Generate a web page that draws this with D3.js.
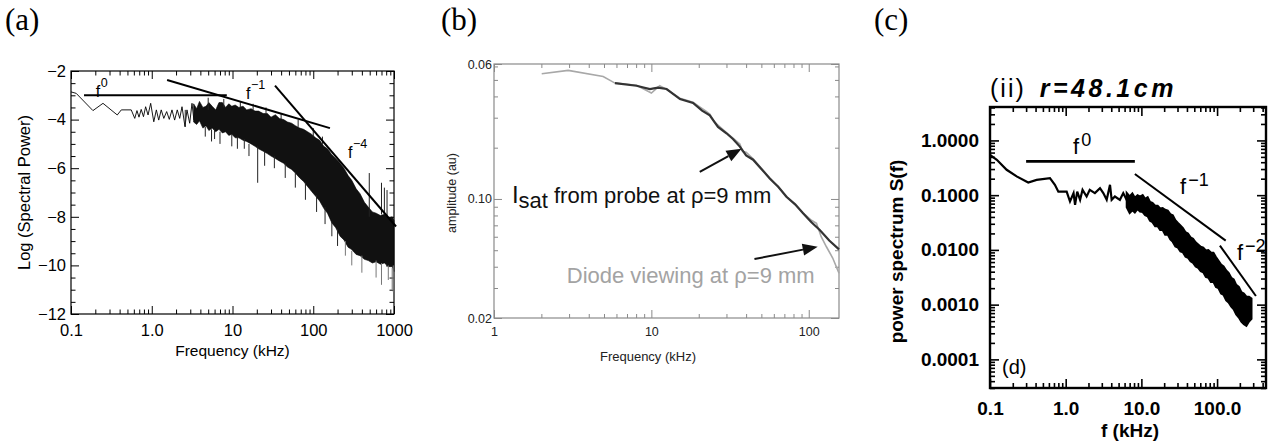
<!DOCTYPE html>
<html>
<head>
<meta charset="utf-8">
<script src="https://cdn.jsdelivr.net/npm/d3@7"></script>
<style>
  html, body { margin: 0; padding: 0; background: #fff; }
  svg { display: block; }
</style>
</head>
<body>
<svg id="fig" width="1284" height="448"></svg>
<script>
// ---------------- Panel (a): log spectral power ----------------
const aLowFreq = [0.1, 0.116, 0.187, 0.249, 0.374, 0.42, 0.557, 0.616, 0.656, 0.695, 0.74, 0.79, 0.84, 0.9, 0.97, 1.06,
  1.14, 1.22, 1.31, 1.41, 1.53, 1.65, 1.78, 1.92, 2.07, 2.22, 2.37, 2.58, 2.73, 2.95, 3.15, 3.33];
const aLowPower = [-2.86, -2.92, -3.63, -3.33, -3.81, -3.6, -3.6, -3.95, -3.63, -3.9, -3.58, -3.88, -3.47, -3.81, -3.33, -4.09,
  -3.6, -4.02, -3.6, -3.95, -3.67, -3.99, -3.6, -4.02, -3.6, -3.95, -3.47, -4.29, -3.6, -4.15, -3.33, -4.02];
const aBandFreq = [3.3, 3.6, 3.9, 4.3, 4.7, 5.1, 5.6, 6.2, 6.8, 7.5, 8.2, 9.0, 9.8, 10.8, 12, 13.5, 15, 17, 19, 21,
  24, 27, 30, 34, 38, 43, 48, 54, 60, 68, 76, 85, 95, 107, 120, 135, 150, 170, 190, 215,
  240, 270, 300, 340, 380, 430, 480, 540, 600, 680, 760, 850, 950, 1000];
const aBandHigh = [-3.35, -3.55, -3.25, -3.5, -3.45, -3.3, -3.45, -3.6, -3.3, -3.3, -3.5, -3.35, -3.45, -3.4, -3.5, -3.45, -3.6, -3.55, -3.65, -3.65,
  -3.75, -3.75, -3.9, -3.8, -3.95, -4.0, -4.1, -4.15, -4.25, -4.35, -4.4, -4.5, -4.6, -4.75, -4.85, -5.1, -5.2, -5.45, -5.6, -5.8,
  -6.0, -6.3, -6.5, -6.85, -7.05, -7.4, -7.6, -7.8, -7.85, -7.95, -7.9, -8.05, -8.0, -8.15];
const aBandLow = [-4.1, -4.2, -4.05, -4.35, -4.25, -4.45, -4.35, -4.5, -4.4, -4.55, -4.5, -4.65, -4.6, -4.75, -4.75, -4.85, -4.9, -5.0, -5.1, -5.2,
  -5.3, -5.4, -5.5, -5.6, -5.7, -5.8, -5.95, -6.05, -6.2, -6.4, -6.55, -6.75, -6.95, -7.15, -7.35, -7.65, -7.85, -8.25, -8.45, -8.8,
  -8.95, -9.25, -9.35, -9.55, -9.6, -9.75, -9.8, -9.9, -9.85, -9.95, -9.9, -10.05, -10.05, -10.25];
// isolated spectral spikes: frequency, one end, other end
const aSpikeFreq = [2.6, 4.6, 5.5, 6.0, 7.0, 9.8, 11.5, 14, 16, 20.5, 25, 33, 45, 60, 80, 110, 140, 170, 200,
  5.0, 7.8, 12.5, 18, 26, 40, 65, 100, 130,
  494, 700, 760, 820, 250, 300, 400, 600, 700, 850, 950, 980];
const aSpikeTop = [-3.6, -4.3, -4.4, -4.4, -4.5, -4.6, -4.7, -4.8, -5.0, -5.1, -5.3, -5.5, -5.8, -6.2, -6.6, -7.1, -7.6, -8.2, -8.5,
  -3.1, -3.15, -3.25, -3.35, -3.5, -3.75, -4.0, -4.35, -4.7,
  -6.2, -6.6, -6.8, -6.9, -9.0, -9.4, -9.6, -9.8, -9.9, -10.0, -10.1, -10.0];
const aSpikeBottom = [-4.3, -4.7, -4.9, -4.8, -5.0, -5.1, -5.2, -5.2, -5.5, -6.6, -5.9, -6.0, -6.4, -6.8, -7.3, -7.8, -8.3, -8.8, -9.2,
  -3.6, -3.5, -3.5, -3.6, -3.75, -4.0, -4.3, -4.7, -5.0,
  -8.0, -7.9, -7.9, -8.0, -9.6, -10.0, -10.3, -10.5, -10.8, -10.6, -11.0, -11.1];
const aFitF0 = [[0.145, -3.0], [8.5, -3.0]];
const aFitF1 = [[1.55, -2.37], [161, -4.35]];
const aFitF4 = [[33.6, -2.6], [1060, -8.4]];
const aXTicks = [0.1, 1, 10, 100, 1000];
const aXTickLabels = ["0.1", "1.0", "10", "100", "1000"];
const aYTicks = [-12, -10, -8, -6, -4, -2];
const aYTickLabels = ["\u221212", "\u221210", "\u22128", "\u22126", "\u22124", "\u22122"];

// ---------------- Panel (b): amplitude spectra ----------------
const bIsatFreq = [5.87, 8.05, 9.78, 11.0, 12.5, 15.2, 18.4, 21, 23.5, 26.5, 30, 33, 36.5, 40, 44.3, 50, 56.5, 64, 72.1, 82, 92, 104, 117.5, 135, 155.7];
const bIsatAmp = [0.479, 0.462, 0.442, 0.45, 0.442, 0.386, 0.366, 0.33, 0.31, 0.265, 0.243, 0.225, 0.203, 0.18, 0.170, 0.150, 0.132, 0.118, 0.103, 0.093, 0.0824, 0.073, 0.0657, 0.057, 0.0506];
const bDiodeFreq = [2.01, 2.96, 4.94, 5.87, 8.05, 10.0, 11.3, 12.5, 15.2, 18.4, 20.5, 22, 23.5, 25, 30, 36.5, 38, 40, 44.3, 56.5, 72.1, 92, 104, 112, 120, 129.5, 142, 155.7];
const bDiodeAmp = [0.543, 0.569, 0.524, 0.479, 0.465, 0.419, 0.462, 0.44, 0.39, 0.37, 0.345, 0.33, 0.315, 0.285, 0.245, 0.21, 0.19, 0.188, 0.172, 0.133, 0.104, 0.083, 0.075, 0.0719, 0.06, 0.0524, 0.045, 0.0366];
const bXTicks = [1, 10, 100];
const bXTickLabels = ["1", "10", "100"];
const bYTicks = [0.02, 0.1, 0.62];
const bYTickLabels = ["0.02", "0.10", "0.06"];

// ---------------- Panel (c): power spectrum S(f) ----------------
const cLowFreq = [0.1, 0.123, 0.166, 0.225, 0.32, 0.413, 0.62, 0.72, 0.8, 1.03, 1.14, 1.27, 1.33, 1.42, 1.55, 1.67, 1.89, 2.08,
  2.43, 2.84, 3.14, 3.48, 3.85, 4.05, 4.47, 5.2, 5.76, 6.39, 7.07];
const cLowPower = [0.547, 0.443, 0.291, 0.22, 0.17, 0.19, 0.205, 0.155, 0.116, 0.116, 0.0766, 0.109, 0.0666, 0.116, 0.0822, 0.125, 0.0945, 0.125,
  0.109, 0.1346, 0.109, 0.0822, 0.155, 0.0822, 0.0945, 0.0822, 0.109, 0.0822, 0.0945];
const cBandFreq = [6.4, 7.0, 7.6, 8.2, 8.9, 9.6, 10.4, 11.2, 12.1, 13.0, 14.0, 15.2, 16.4, 17.7, 19.1, 20.6, 22.3, 24.1, 26.0, 28.1,
  30.4, 32.8, 35.4, 38.3, 41.3, 44.6, 48.2, 52.1, 56.3, 60.8, 65.7, 71.0, 76.7, 82.8, 89.5, 96.6, 104, 113, 122, 132,
  142, 154, 166, 179, 194, 209, 226, 244, 264, 285];
const cBandHigh = [0.110, 0.095, 0.108, 0.090, 0.100, 0.094, 0.100, 0.086, 0.092, 0.075, 0.072, 0.064, 0.064, 0.057, 0.058, 0.054, 0.052, 0.045, 0.043, 0.035,
  0.031, 0.028, 0.025, 0.021, 0.020, 0.017, 0.016, 0.0138, 0.0126, 0.0114, 0.0110, 0.0098, 0.0099, 0.0090, 0.0089, 0.0074, 0.0064, 0.0054, 0.0050, 0.0042,
  0.0038, 0.0031, 0.0029, 0.0023, 0.0021, 0.0017, 0.0016, 0.0014, 0.0014, 0.0013];
const cBandLow = [0.060, 0.047, 0.053, 0.048, 0.056, 0.050, 0.049, 0.043, 0.041, 0.034, 0.032, 0.027, 0.027, 0.023, 0.023, 0.019, 0.019, 0.0155, 0.014, 0.0115,
  0.011, 0.0094, 0.009, 0.0075, 0.0072, 0.0062, 0.0058, 0.0050, 0.0047, 0.0041, 0.0039, 0.0032, 0.0031, 0.0026, 0.0026, 0.0021, 0.0020, 0.0016, 0.0015, 0.0012,
  0.0011, 0.00092, 0.00082, 0.00066, 0.00058, 0.00049, 0.00044, 0.00041, 0.00049, 0.00055];
const cFitF0 = [[0.30, 0.413], [8.2, 0.413]];
const cFitF1 = [[8.2, 0.243], [130, 0.0148]];
const cFitF2 = [[109, 0.012], [326, 0.00144]];
const cXTicks = [0.1, 1, 10, 100];
const cXTickLabels = ["0.1", "1.0", "10.0", "100.0"];
const cYTicks = [1e-4, 1e-3, 1e-2, 1e-1, 1];
const cYTickLabels = ["0.0001", "0.0010", "0.0100", "0.1000", "1.0000"];

// ---------------- helpers ----------------
const SANS = "'Liberation Sans', Arial, Helvetica, sans-serif";
const SERIF = "'Liberation Serif', 'Times New Roman', serif";
const svg = d3.select("#fig");

function zip(xs, ys) { return xs.map((x, i) => [x, ys[i]]); }

function logMinor(lo, hi, majors) {
  const out = [];
  for (let e = Math.floor(Math.log10(lo)) - 1; e <= Math.ceil(Math.log10(hi)); e++) {
    for (let m = 1; m <= 9; m++) {
      const v = +(m * Math.pow(10, e)).toPrecision(8);
      if (v >= lo * 0.9999 && v <= hi * 1.0001 && !majors.some(t => Math.abs(t - v) / v < 1e-6)) out.push(v);
    }
  }
  return out;
}

// Frame with inward ticks on all four sides, labels on bottom and left.
function inwardAxes(g, x, y, c) {
  const [yb, yt] = y.range();
  const [xl, xr] = x.range();
  const fmt = (labels, ticks) => d => { const i = ticks.findIndex(t => Math.abs(t - d) <= Math.abs(d) * 1e-9); return i < 0 ? "" : labels[i]; };
  const defs = [
    [d3.axisBottom(x).tickValues(c.xMajor).tickSize(-c.major).tickPadding(c.xPad).tickFormat(fmt(c.xLabels, c.xMajor)), `translate(0,${yb})`],
    [d3.axisBottom(x).tickValues(c.xMinor).tickSize(-c.minor).tickFormat(""), `translate(0,${yb})`],
    [d3.axisTop(x).tickValues(c.xMajor).tickSize(-c.major).tickFormat(""), `translate(0,${yt})`],
    [d3.axisTop(x).tickValues(c.xMinor).tickSize(-c.minor).tickFormat(""), `translate(0,${yt})`],
    [d3.axisLeft(y).tickValues(c.yMajor).tickSize(-c.major).tickPadding(c.yPad).tickFormat(fmt(c.yLabels, c.yMajor)), `translate(${xl},0)`],
    [d3.axisLeft(y).tickValues(c.yMinor).tickSize(-c.minor).tickFormat(""), `translate(${xl},0)`],
    [d3.axisRight(y).tickValues(c.yMajor).tickSize(-c.major).tickFormat(""), `translate(${xr},0)`],
    [d3.axisRight(y).tickValues(c.yMinor).tickSize(-c.minor).tickFormat(""), `translate(${xr},0)`]
  ];
  defs.forEach(([ax, tr]) => {
    const a = g.append("g").attr("transform", tr).call(ax);
    a.select(".domain").remove();
    a.attr("font-family", c.font).attr("font-size", c.fontSize).attr("font-weight", c.weight || "normal");
    a.selectAll(".tick line").attr("stroke", c.stroke).attr("stroke-width", c.tickWidth);
    a.selectAll(".tick text").attr("fill", c.textColor);
  });
  g.append("rect")
    .attr("x", xl).attr("y", yt).attr("width", xr - xl).attr("height", yb - yt)
    .attr("fill", "none").attr("stroke", c.stroke).attr("stroke-width", c.frameWidth);
}

function powerLabel(g, X, Y, exp, o) {
  const t = g.append("text").attr("x", X).attr("y", Y)
    .attr("font-family", o.font).attr("font-size", o.size).attr("fill", "#000");
  t.append("tspan").text("f");
  t.append("tspan").attr("dx", o.dx).attr("dy", -o.rise).attr("font-size", o.expSize).text(exp);
}

function panelLetter(X, text) {
  svg.append("text").attr("x", X).attr("y", 30)
    .attr("font-family", SERIF).attr("font-size", 31).attr("fill", "#000").text(text);
}

// ---------------- Panel (a) ----------------
(function () {
  const g = svg.append("g");
  const x = d3.scaleLog().domain([0.1, 1000]).range([71, 394]);
  const y = d3.scaleLinear().domain([-12, -2]).range([314, 71]);

  const yMinor = d3.range(-12, -1.99, 0.5).filter(v => !aYTicks.includes(v));
  inwardAxes(g, x, y, {
    xMajor: aXTicks, xLabels: aXTickLabels, xMinor: logMinor(0.1, 1000, aXTicks),
    yMajor: aYTicks, yLabels: aYTickLabels, yMinor,
    major: 8, minor: 4.5, xPad: 10, yPad: 5,
    font: SANS, fontSize: 16.5, stroke: "#000", tickWidth: 1, frameWidth: 1.2, textColor: "#000"
  });

  // noisy spectrum: thin low-frequency trace + dense band + isolated spikes
  g.append("path").datum(zip(aLowFreq, aLowPower))
    .attr("fill", "none").attr("stroke", "#000").attr("stroke-width", 0.9)
    .attr("d", d3.line().x(d => x(d[0])).y(d => y(d[1])));
  const band = aBandFreq.map((f, i) => ({ f, hi: aBandHigh[i], lo: aBandLow[i] }));
  g.append("path").datum(band)
    .attr("fill", "#111").attr("stroke", "#000").attr("stroke-width", 0.6)
    .attr("d", d3.area().x(d => x(d.f)).y0(d => y(d.lo)).y1(d => y(d.hi)));
  g.selectAll("line.spike").data(aSpikeFreq).join("line").attr("class", "spike")
    .attr("x1", d => x(d)).attr("x2", d => x(d))
    .attr("y1", (d, i) => y(aSpikeTop[i])).attr("y2", (d, i) => y(aSpikeBottom[i]))
    .attr("stroke", (d, i) => aSpikeBottom[i] < -9.5 ? "#777" : "#222").attr("stroke-width", 1);

  const fit = d3.line().x(d => x(d[0])).y(d => y(d[1]));
  [aFitF0, aFitF1, aFitF4].forEach(seg => g.append("path").datum(seg)
    .attr("fill", "none").attr("stroke", "#000").attr("stroke-width", 2).attr("d", fit));

  const lo = { font: SANS, size: 16, expSize: 12.5, dx: 0.5, rise: 10 };
  powerLabel(g, x(0.203), y(-3.07), "0", lo);
  powerLabel(g, x(14.7), y(-3.15), "\u22121", lo);
  powerLabel(g, x(269), y(-5.58), "\u22124", lo);

  g.append("text").attr("x", (x.range()[0] + x.range()[1]) / 2).attr("y", 356)
    .attr("text-anchor", "middle").attr("font-family", SANS).attr("font-size", 15.5).text("Frequency (kHz)");
  g.append("text").attr("transform", `translate(30,${(y.range()[0] + y.range()[1]) / 2}) rotate(-90)`)
    .attr("text-anchor", "middle").attr("font-family", SANS).attr("font-size", 16.5).text("Log (Spectral Power)");
})();
panelLetter(5, "(a)");

// ---------------- Panel (b) ----------------
(function () {
  const g = svg.append("g");
  const x = d3.scaleLog().domain([1, 155.7]).range([494, 839]);
  const y = d3.scaleLog().domain([0.02, 0.62]).range([318, 64]);

  inwardAxes(g, x, y, {
    xMajor: bXTicks, xLabels: bXTickLabels, xMinor: logMinor(1, 155.7, bXTicks),
    yMajor: bYTicks, yLabels: bYTickLabels, yMinor: logMinor(0.02, 0.62, bYTicks),
    major: 8, minor: 4, xPad: 9, yPad: 2,
    font: SANS, fontSize: 12.5, stroke: "#8a8a8a", tickWidth: 1, frameWidth: 1.2, textColor: "#222"
  });

  const line = d3.line().x(d => x(d[0])).y(d => y(d[1]));
  g.append("path").datum(zip(bDiodeFreq, bDiodeAmp))
    .attr("fill", "none").attr("stroke", "#a8a8a8").attr("stroke-width", 1.6).attr("d", line);
  g.append("path").datum(zip(bIsatFreq, bIsatAmp))
    .attr("fill", "none").attr("stroke", "#333").attr("stroke-width", 2.2).attr("d", line);

  // annotation arrows
  function arrow(p0, p1) {
    const X0 = x(p0[0]), Y0 = y(p0[1]), X1 = x(p1[0]), Y1 = y(p1[1]);
    const ang = Math.atan2(Y1 - Y0, X1 - X0), L = 15, W = 6;
    const bx = X1 - L * Math.cos(ang), by = Y1 - L * Math.sin(ang);
    g.append("line").attr("x1", X0).attr("y1", Y0).attr("x2", bx).attr("y2", by)
      .attr("stroke", "#111").attr("stroke-width", 2);
    const px = -Math.sin(ang) * W, py = Math.cos(ang) * W;
    g.append("path").attr("d", `M${X1},${Y1}L${bx + px},${by + py}L${bx - px},${by - py}Z`).attr("fill", "#111");
  }
  arrow([20.3, 0.144], [37.4, 0.197]);
  arrow([45.2, 0.0444], [114, 0.0524]);

  const t1 = g.append("text").attr("x", x(1.3)).attr("y", y(0.0947))
    .attr("font-family", SANS).attr("fill", "#111");
  t1.append("tspan").attr("font-size", 24).text("I");
  t1.append("tspan").attr("font-size", 22).attr("dy", 5).text("sat");
  t1.append("tspan").attr("font-size", 22).attr("dx", 6).attr("dy", -5).text("from probe at \u03c1=9 mm");
  g.append("text").attr("x", x(2.9)).attr("y", y(0.0321))
    .attr("font-family", SANS).attr("font-size", 22).attr("fill", "#a3a3a3").text("Diode viewing at \u03c1=9 mm");

  g.append("text").attr("x", 648).attr("y", 361)
    .attr("text-anchor", "middle").attr("font-family", SANS).attr("font-size", 13).attr("fill", "#222").text("Frequency (kHz)");
  g.append("text").attr("transform", `translate(456,193) rotate(-90)`)
    .attr("text-anchor", "middle").attr("font-family", SANS).attr("font-size", 12.5).attr("fill", "#222").text("amplitude (au)");
})();
panelLetter(441, "(b)");

// ---------------- Panel (c) ----------------
(function () {
  const g = svg.append("g");
  const x = d3.scaleLog().domain([0.1, 443]).range([990, 1266]);
  const y = d3.scaleLog().domain([3e-5, 4.08]).range([388, 107]);

  inwardAxes(g, x, y, {
    xMajor: cXTicks, xLabels: cXTickLabels, xMinor: logMinor(0.1, 443, cXTicks),
    yMajor: cYTicks, yLabels: cYTickLabels, yMinor: logMinor(3e-5, 4.08, cYTicks),
    major: 9, minor: 5, xPad: 14, yPad: 11,
    font: SANS, fontSize: 19, weight: "bold", stroke: "#000", tickWidth: 1.6, frameWidth: 2.4, textColor: "#000"
  });

  g.append("path").datum(zip(cLowFreq, cLowPower))
    .attr("fill", "none").attr("stroke", "#000").attr("stroke-width", 2.2)
    .attr("d", d3.line().x(d => x(d[0])).y(d => y(d[1])));
  const band = cBandFreq.map((f, i) => ({ f, hi: cBandHigh[i], lo: cBandLow[i] }));
  g.append("path").datum(band)
    .attr("fill", "#000").attr("stroke", "#000").attr("stroke-width", 2)
    .attr("d", d3.area().x(d => x(d.f)).y0(d => y(d.lo)).y1(d => y(d.hi)));

  const fit = d3.line().x(d => x(d[0])).y(d => y(d[1]));
  g.append("path").datum(cFitF0).attr("fill", "none").attr("stroke", "#000").attr("stroke-width", 2.8).attr("d", fit);
  g.append("path").datum(cFitF1).attr("fill", "none").attr("stroke", "#000").attr("stroke-width", 2).attr("d", fit);
  g.append("path").datum(cFitF2).attr("fill", "none").attr("stroke", "#000").attr("stroke-width", 2).attr("d", fit);

  const lo = { font: SANS, size: 22, expSize: 18, dx: 2, rise: 8 };
  powerLabel(g, x(1.25), y(0.56), "0", lo);
  powerLabel(g, x(32.4), y(0.104), "\u22121", lo);
  powerLabel(g, x(183), y(0.0066), "\u22122", lo);

  const [xl, xr] = x.range(), [yb, yt] = y.range();
  g.append("text").attr("x", xl + 12).attr("y", yb - 14)
    .attr("font-family", SANS).attr("font-size", 20).text("(d)");

  const title = g.append("text").attr("x", xl).attr("y", yt - 10)
    .attr("font-family", SANS).attr("font-size", 25).attr("fill", "#000");
  title.append("tspan").attr("letter-spacing", 2).text("(ii)");
  title.append("tspan").attr("dx", 14).attr("font-weight", "bold").attr("font-style", "italic")
    .attr("letter-spacing", 3.5).text("r=48.1cm");

  g.append("text").attr("x", (xl + xr) / 2 + 2).attr("y", 437)
    .attr("text-anchor", "middle").attr("font-family", SANS).attr("font-size", 19).attr("font-weight", "bold").text("f (kHz)");
  g.append("text").attr("transform", `translate(903,${(yb + yt) / 2 + 4}) rotate(-90)`)
    .attr("text-anchor", "middle").attr("font-family", SANS).attr("font-size", 19).attr("font-weight", "bold").text("power spectrum S(f)");
})();
panelLetter(874, "(c)");
</script>
</body>
</html>
